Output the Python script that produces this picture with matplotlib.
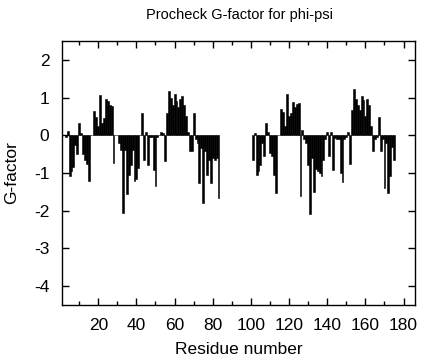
import matplotlib
matplotlib.use("Agg")
import matplotlib.pyplot as plt
from matplotlib.ticker import MultipleLocator

plt.rcParams['font.family'] = ['Liberation Sans', 'DejaVu Sans']
plt.rcParams['axes.unicode_minus'] = False

# Chain A residues 1-83, chain B residues 101-175
chain_a_start = 1
chain_a_gfactor = [
    0.0, 0.0, -0.05, 0.12, -1.07, -0.95, -0.85, -0.25, -0.5, 0.33,
    0.05, -0.5, -0.65, -0.75, -1.2, 0.0, 0.0, 0.65, 0.48, 0.24,
    1.08, 0.33, 0.46, 0.97, 0.9, 0.81, 0.77, -0.73, 0.0, 0.0,
    -0.2, -0.4, -2.06, -0.4, -1.57, -1.04, -0.8, -0.4, -1.22, -1.15,
    -0.87, 0.0, 0.6, -0.66, 0.1, -0.78, -0.05, -0.05, -0.93, -1.35,
    -0.05, 0.0, 0.1, 0.05, -0.69, 0.6, 1.17, 1.0, 0.8, 1.1,
    0.9, 0.75, 0.96, 1.03, 0.8, 0.5, 0.1, -0.42, -0.42, 0.6,
    -0.1, -0.2, -1.27, -0.35, -1.8, -0.42, -1.04, -0.65, -1.27, -0.6,
    -0.65, -0.6, -1.66,
]
chain_b_start = 101
chain_b_gfactor = [
    -0.65, 0.05, -1.04, -0.95, -0.8, -0.2, -0.56, 0.33, 0.08, -0.47,
    -0.55, -1.04, -1.53, 0.0, 0.0, 0.7, 0.62, 0.24, 1.1, 0.5,
    0.6, 0.88, 0.75, 0.84, 0.86, -1.62, 0.15, -0.1, -0.2, -0.8,
    -2.1, -0.6, -1.5, -0.9, -0.96, -1.0, -1.09, -0.65, -0.1, 0.08,
    -0.54, 0.1, -0.91, -0.08, -0.1, -0.1, -1.0, -1.25, -0.1, -0.05,
    0.1, -0.75, 0.68, 1.23, 0.95, 0.81, 0.68, 1.03, 0.93, 0.5,
    0.95, 0.8, 0.24, -0.42, -0.1, -0.05, 0.48, -0.42, -0.1, -1.4,
    -0.2, -1.53, -1.09, -0.3, -0.65,
]

res_a = list(range(chain_a_start, chain_a_start + len(chain_a_gfactor)))
res_b = list(range(chain_b_start, chain_b_start + len(chain_b_gfactor)))
residues = res_a + res_b
gfactor = chain_a_gfactor + chain_b_gfactor

x_ticks = [20, 40, 60, 80, 100, 120, 140, 160, 180]
y_ticks = [-4, -3, -2, -1, 0, 1, 2]

fig = plt.figure(figsize=(4.24, 3.6), dpi=100)
ax = fig.add_axes([62/424, 1-305/360, (415-62)/424, (305-41)/360])

ax.bar(residues, gfactor, width=1.0, color='black', edgecolor='black', linewidth=0.4)

ax.set_xlim(1, 186)
ax.set_ylim(-4.5, 2.5)
ax.set_xticks(x_ticks)
ax.set_xticklabels([str(t) for t in x_ticks])
ax.xaxis.set_minor_locator(MultipleLocator(10))
ax.set_yticks(y_ticks)
ax.set_yticklabels([str(t) for t in y_ticks])

ax.tick_params(which='both', direction='in', top=True, right=True, labelsize=12.5, width=1.0)
ax.tick_params(axis='x', pad=9)
ax.tick_params(axis='y', pad=9)
ax.tick_params(which='major', length=5)
ax.tick_params(which='minor', length=3)
for s in ax.spines.values():
    s.set_linewidth(1.0)

ax.set_xlabel('Residue number', fontsize=12.5)
ax.set_ylabel('G-factor', fontsize=12.5)
ax.xaxis.set_label_coords(0.5, (305-350)/264, transform=ax.transAxes)
ax.xaxis.label.set_va('center')
ax.yaxis.set_label_coords((12-62)/353, 0.5, transform=ax.transAxes)
ax.yaxis.label.set_va('center')
fig.text(240/424, 1-15/360, 'Procheck G-factor for phi-psi', fontsize=10.5, ha='center', va='center')

fig.savefig('out.png', dpi=100)
